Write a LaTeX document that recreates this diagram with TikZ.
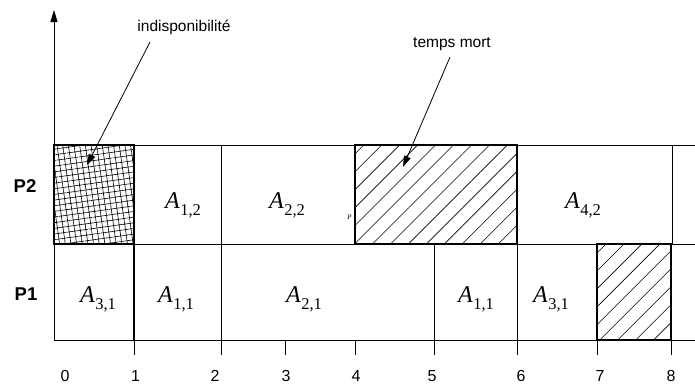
\documentclass[tikz,border=0pt]{standalone}
\usepackage{fontspec}
\setmainfont{Liberation Sans}
\newfontfamily\tms{Liberation Serif}
\usetikzlibrary{patterns.meta,arrows.meta}
\newcommand{\task}[2]{{\tms\fontsize{24}{24}\selectfont\textit{A}\kern0.5pt\raisebox{-0.3em}{\fontsize{16.5}{16.5}\selectfont #1,#2}}}
\begin{document}
\begin{tikzpicture}[x=1pt,y=-1pt,
  gridline/.style={line width=0.8pt},
  thickbox/.style={line width=1.6pt},
  axisline/.style={line width=1pt},
  tasklbl/.style={inner sep=0pt,anchor=center},
  proclbl/.style={font=\fontsize{18.5}{18.5}\selectfont\bfseries,inner sep=0pt},
  ticklbl/.style={font=\fontsize{16}{16}\selectfont,inner sep=0pt,anchor=base},
  annot/.style={font=\fontsize{15.5}{15.5}\selectfont,inner sep=0pt},
  pointer/.style={line width=0.8pt,-{Triangle[length=11pt,width=7pt]}}]
\useasboundingbox (0,0) rectangle (695,383);
% hatched boxes
\fill[pattern={Hatch[angle=8,distance=5.6pt,line width=0.6pt]}] (54,145) rectangle (134,244);
\fill[pattern={Lines[angle=45,distance=12.7pt,line width=0.6pt]}] (355,145) rectangle (517,244);
\fill[pattern={Lines[angle=45,distance=12.7pt,line width=0.6pt]}] (597,244) rectangle (671,340);
% grid lines
\draw[gridline] (54,145) -- (695,145);
\draw[gridline] (54,244) -- (695,244);
\foreach \x in {134,221,355,517,672} \draw[gridline] (\x,145) -- (\x,244);
\foreach \x in {221,434,517,597,671} \draw[gridline] (\x,244) -- (\x,340);
\draw[line width=1.3pt] (134,244) -- (134,340);
% thick borders
\draw[thickbox] (54,145) rectangle (134,244);
\draw[thickbox] (355,145) rectangle (517,244);
\draw[thickbox] (597,244) rectangle (671,340);
% axes
\draw[axisline] (54,340) -- (695,340);
\draw[axisline,-{Triangle[length=12pt,width=7pt]}] (54,340) -- (54,10);
\foreach \x in {134,221,285,355,434,517,597,671} \draw[axisline] (\x,340) -- (\x,355);
% tick labels
\foreach \x/\t in {65/0,135.5/1,215/2,286/3,356/4,432/5,521/6,600/7,671/8}
  \node[ticklbl] (t\t) at (\x,381) {\t};
% processor labels
\node[proclbl] (p2) at (25,186) {P2};
\node[proclbl] (p1) at (26,294) {P1};
% task labels
\node[tasklbl] (a12) at (183,205) {\task{1}{2}};
\node[tasklbl] (a22) at (287,205) {\task{2}{2}};
\node[tasklbl] (a42) at (583,205) {\task{4}{2}};
\node[tasklbl] (a31) at (98,299) {\task{3}{1}};
\node[tasklbl] (a11) at (176,299) {\task{1}{1}};
\node[tasklbl] (a21) at (304,299) {\task{2}{1}};
\node[tasklbl] (a11b) at (476,299) {\task{1}{1}};
\node[tasklbl] (a31b) at (551,299) {\task{3}{1}};
\node[inner sep=0pt] (pp) at (349.5,217) {\tms\fontsize{7}{7}\selectfont\textit{P}};
% annotations
\node[annot] (indisp) at (184,27) {indisponibilité};
\node[annot] (tmort) at (452,44) {temps mort};
\coordinate (indispstart) at (150,42);
\coordinate (indispend) at (87,165);
\coordinate (tmortstart) at (450,57);
\coordinate (tmortend) at (403,167);
\draw[pointer] (indispstart) -- (indispend);
\draw[pointer] (tmortstart) -- (tmortend);
\end{tikzpicture}
\end{document}
